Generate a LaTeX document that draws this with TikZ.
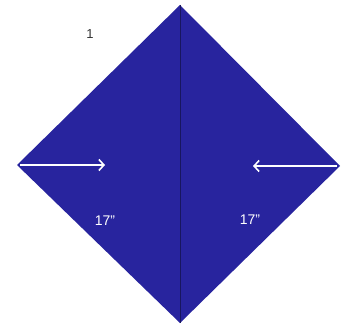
\documentclass[tikz,border=0pt]{standalone}
\usepackage{fontspec}
\setmainfont{Liberation Sans}
\usepackage{tikz}
\usetikzlibrary{arrows.meta,positioning}
\definecolor{foldblue}{RGB}{40,36,158}

\begin{document}
\begin{tikzpicture}[x=1pt, y=-1pt, every node/.style={inner sep=0pt},
  foldarrow/.style={white, line width=1.6pt, -{Straight Barb[length=5pt,width=11pt]}, shorten <=3pt}]
\useasboundingbox (0,0) rectangle (342,326);
% Square folded corner to corner
\coordinate (top) at (180,5);
\coordinate (left) at (17,165);
\coordinate (right) at (340,166);
\coordinate (bottom) at (180,323);
\fill[foldblue] (top) -- (right) -- (bottom) -- (left) -- cycle;
\draw[foldblue!60!black, line width=1pt] (top) -- (bottom);

% Fold arrows
\coordinate (lend) at (105,165);
\coordinate (rend) at (253,166);
\draw[foldarrow] (left) -- (lend);
\draw[foldarrow] (right) -- (rend);

% Labels
\node[black!80] (step) at (90,34) {\fontsize{13}{15}\selectfont 1};
\node[white] (lsize) at (105,221) {\fontsize{14}{16}\selectfont 17"};
\node[white] (rsize) at (250,220) {\fontsize{14}{16}\selectfont 17"};
\end{tikzpicture}
\end{document}
